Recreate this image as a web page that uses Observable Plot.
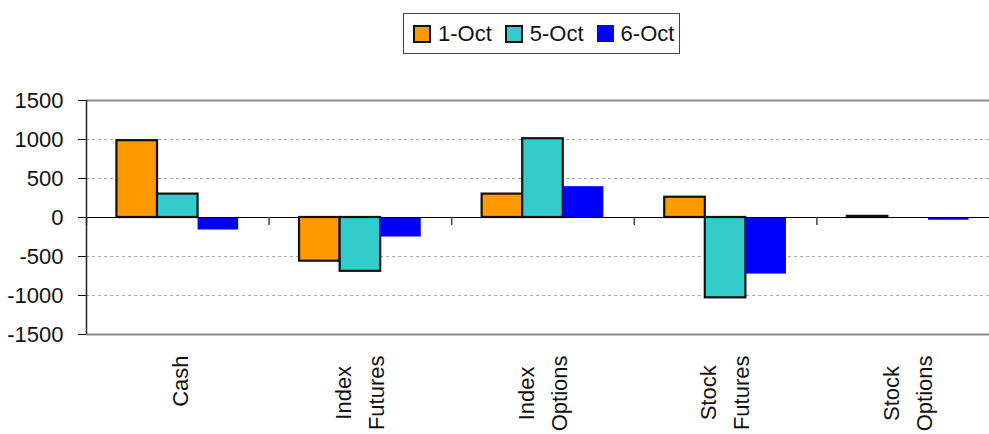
<!DOCTYPE html>
<html>
<head>
<meta charset="utf-8">
<script src="https://cdn.jsdelivr.net/npm/d3@7"></script>
<script src="https://cdn.jsdelivr.net/npm/@observablehq/plot@0.6"></script>
<style>
  html, body { margin: 0; padding: 0; background: white; overflow: hidden; }
  #wrap { position: relative; width: 989px; height: 434px; overflow: hidden; }
  #legend {
    position: absolute; left: 403px; top: 13px; height: 39px; width: 275px;
    border: 1px solid #444; display: flex; align-items: center; box-sizing: content-box;
    font-family: "Liberation Sans", Arial, sans-serif; font-size: 22px; color: #111;
  }
  .item { display: flex; align-items: center; margin-left: 9px; margin-right: 4px; }
  .sw { width: 14px; height: 14px; border: 2px solid #111; margin-right: 7px; }
  .sw.noborder { width: 17px; height: 17px; border: none; }
  #chart { position: absolute; left: 0; top: 60px; }
</style>
</head>
<body>
<div id="wrap">
  <div id="legend"></div>
  <div id="chart"></div>
</div>
<script>
const categories = ["Cash", "Index\nFutures", "Index\nOptions", "Stock\nFutures", "Stock\nOptions"];
const series = ["1-Oct", "5-Oct", "6-Oct"];
const oct1 = [985, -560, 300, 260, 15];
const oct5 = [300, -690, 1010, -1030, null];
const oct6 = [-160, -250, 395, -725, -35];
const yTicks = [-1500, -1000, -500, 0, 500, 1000, 1500];
const gridTicks = [-1000, -500, 500, 1000];
const colors = ["#FF9900", "#33CCCC", "#0000FF"];
const outlined = [true, true, false];

const valuesBySeries = [oct1, oct5, oct6];
const groupWidth = 4.5; // 3 bars + 150% gap, in bar units
const rows = [];
categories.forEach((cat, ci) => {
  series.forEach((s, si) => {
    const v = valuesBySeries[si][ci];
    if (v == null) return;
    rows.push({
      cat, series: s, value: v,
      x1: ci + 0.75 / groupWidth + si / groupWidth,
      x2: ci + 0.75 / groupWidth + (si + 1) / groupWidth,
      outlined: outlined[si]
    });
  });
});
const labelRows = categories.map((c, i) => ({label: c, xc: i + 0.5}));
const boundaries = d3.range(categories.length);
const lineHeight = 1.5;

// Legend
const legend = document.getElementById("legend");
series.forEach((s, i) => {
  const item = document.createElement("div");
  item.className = "item";
  const sw = document.createElement("div");
  sw.className = "sw" + (outlined[i] ? "" : " noborder");
  sw.style.background = colors[i];
  const t = document.createElement("span");
  t.textContent = s;
  item.append(sw, t);
  legend.append(item);
});

const svg = Plot.plot({
  width: 1000,
  height: 374,
  marginLeft: 86,
  marginRight: 1,
  marginTop: 40,
  marginBottom: 100,
  style: {
    fontFamily: "'Liberation Sans', Arial, sans-serif",
    fontSize: "22px",
    color: "#111",
    background: "white",
    maxWidth: "none",
    overflow: "visible"
  },
  x: {domain: [0, categories.length], axis: null},
  y: {
    domain: [-1500, 1500],
    ticks: yTicks,
    tickSize: 8,
    tickPadding: 15,
    tickFormat: d => String(d),
    label: null
  },
  color: {domain: series, range: colors},
  marks: [
    Plot.ruleY(gridTicks, {stroke: "#aaa", strokeDasharray: "3,3", strokeWidth: 1}),
    Plot.ruleY([-1500, 1500], {stroke: "#8c8c8c", strokeWidth: 2}),
    Plot.rectY(rows, {
      x1: "x1", x2: "x2", y1: 0, y2: "value",
      fill: "series",
      stroke: d => d.outlined ? "#111" : "none",
      strokeWidth: 2.2
    }),
    Plot.ruleY([0], {stroke: "black", strokeWidth: 1.2}),
    Plot.ruleX(boundaries, {y1: 0, y2: 0, insetBottom: -8, stroke: "#444", strokeWidth: 1.5}),
    Plot.ruleX([0], {stroke: "#222", strokeWidth: 1.5}),
    Plot.text(labelRows, {
      x: "xc", frameAnchor: "bottom", text: "label",
      rotate: -90, textAnchor: "middle", lineAnchor: "middle", dy: 21,
      lineHeight, fontSize: 22,
      fontFamily: "'Liberation Sans', Arial, sans-serif",
      fill: "#111"
    })
  ]
});
document.getElementById("chart").append(svg);

// align multi-line rotated labels: longest line ends at the anchor, lines centred
svg.querySelectorAll("g[aria-label='text'] text").forEach(t => {
  const spans = t.querySelectorAll("tspan");
  const n = spans.length;
  spans.forEach((s, i) => {
    s.removeAttribute("dy");
    s.setAttribute("y", `${(i - (n - 1) / 2) * lineHeight + 0.32}em`);
  });
  const w = t.getBBox().width;
  const tr = t.getAttribute("transform") || "";
  t.setAttribute("transform", tr + ` translate(${-w / 2},0)`);
});
</script>
</body>
</html>
